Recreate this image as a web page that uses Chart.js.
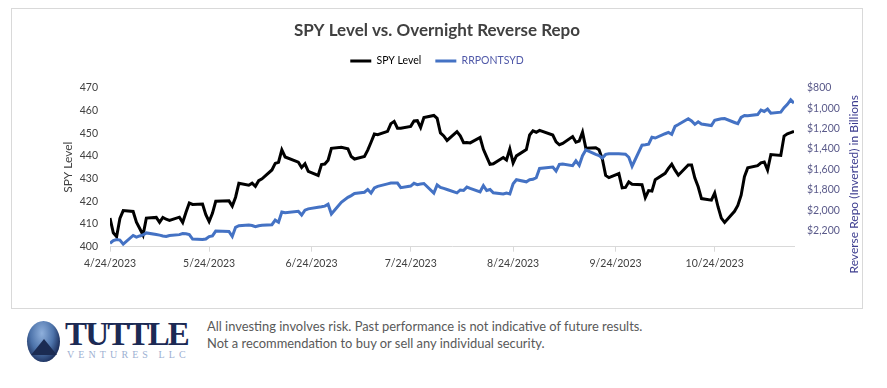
<!DOCTYPE html>
<html>
<head>
<meta charset="utf-8">
<script src="https://cdn.jsdelivr.net/npm/chart.js@4.4.0/dist/chart.umd.min.js"></script>
<style>
  body { margin: 0; background: #fff; width: 887px; height: 388px; position: relative; overflow: hidden; font-family: Lato, sans-serif; }
  #chartBox { position: absolute; left: 11px; top: 8px; width: 850px; height: 299px; border: 1px solid #d9d9d9; }
  #logoMark { position: absolute; left: 27px; top: 321px; width: 33px; height: 41px; border-radius: 50%;
    background: radial-gradient(ellipse at 45% 30%, #8fb0dc 0%, #4d73aa 45%, #1c2f5c 75%); }
  #logoMark::after { content: ""; position: absolute; left: 4px; top: 18px; width: 0; height: 0;
    border-left: 13px solid transparent; border-right: 13px solid transparent; border-bottom: 16px solid #1b2b52; }
  #logoName { position: absolute; left: 65px; top: 316px; font-family: "Liberation Serif", serif; font-weight: bold;
    font-size: 33px; letter-spacing: -1.8px; color: #1c2a54; }
  #logoSub { position: absolute; left: 67px; top: 349px; font-family: "Liberation Serif", serif; font-size: 10px;
    letter-spacing: 4.1px; color: #9db0d2; }
  #disclaimer { position: absolute; left: 207px; top: 318px; font-size: 12.9px; line-height: 17px; color: #595959; }
</style>
</head>
<body>
<div id="chartBox"><canvas id="repoChart" width="850" height="299"></canvas></div>
<div id="logoMark"></div>
<div id="logoName">TUTTLE</div>
<div id="logoSub">VENTURES LLC</div>
<div id="disclaimer">All investing involves risk. Past performance is not indicative of future results.<br>Not a recommendation to buy or sell any individual security.</div>
<script>
const tradeDates = [
  "4/24/2023","4/25/2023","4/26/2023","4/27/2023","4/28/2023",
  "5/1/2023","5/2/2023","5/3/2023","5/4/2023","5/5/2023","5/8/2023","5/9/2023","5/10/2023","5/11/2023","5/12/2023",
  "5/15/2023","5/16/2023","5/17/2023","5/18/2023","5/19/2023","5/22/2023","5/23/2023","5/24/2023","5/25/2023","5/26/2023",
  "5/30/2023","5/31/2023",
  "6/1/2023","6/2/2023","6/5/2023","6/6/2023","6/7/2023","6/8/2023","6/9/2023","6/12/2023","6/13/2023","6/14/2023",
  "6/15/2023","6/16/2023","6/20/2023","6/21/2023","6/22/2023","6/23/2023","6/26/2023","6/27/2023","6/28/2023","6/29/2023","6/30/2023",
  "7/3/2023","7/5/2023","7/6/2023","7/7/2023","7/10/2023","7/11/2023","7/12/2023","7/13/2023","7/14/2023",
  "7/17/2023","7/18/2023","7/19/2023","7/20/2023","7/21/2023","7/24/2023","7/25/2023","7/26/2023","7/27/2023","7/28/2023","7/31/2023",
  "8/1/2023","8/2/2023","8/3/2023","8/4/2023","8/7/2023","8/8/2023","8/9/2023","8/10/2023","8/11/2023",
  "8/14/2023","8/15/2023","8/16/2023","8/17/2023","8/18/2023","8/21/2023","8/22/2023","8/23/2023","8/24/2023","8/25/2023",
  "8/28/2023","8/29/2023","8/30/2023","8/31/2023",
  "9/1/2023","9/5/2023","9/6/2023","9/7/2023","9/8/2023","9/11/2023","9/12/2023","9/13/2023","9/14/2023","9/15/2023",
  "9/18/2023","9/19/2023","9/20/2023","9/21/2023","9/22/2023","9/25/2023","9/26/2023","9/27/2023","9/28/2023","9/29/2023",
  "10/2/2023","10/3/2023","10/4/2023","10/5/2023","10/6/2023","10/9/2023","10/10/2023","10/11/2023","10/12/2023","10/13/2023",
  "10/16/2023","10/17/2023","10/18/2023","10/19/2023","10/20/2023","10/23/2023","10/24/2023","10/25/2023","10/26/2023","10/27/2023",
  "10/30/2023","10/31/2023",
  "11/1/2023","11/2/2023","11/3/2023","11/6/2023","11/7/2023","11/8/2023","11/9/2023","11/10/2023",
  "11/13/2023","11/14/2023","11/15/2023","11/16/2023","11/17/2023"
];
const spyLevel = [
  412.6, 406.1, 404.4, 412.4, 415.9,
  415.5, 410.8, 408.0, 405.1, 412.6, 412.9, 410.7, 412.9, 412.1, 411.6,
  413.0, 410.7, 415.2, 419.2, 418.6, 418.8, 414.1, 411.1, 414.7, 420.0,
  420.2, 417.9,
  421.8, 427.9, 427.1, 428.0, 426.6, 429.1, 429.9, 433.8, 436.7, 437.2,
  442.6, 439.5, 437.2, 434.9, 436.5, 433.2, 431.4, 436.2, 436.4, 438.1, 443.3,
  443.8, 443.1, 439.7, 438.6, 439.7, 442.5, 446.0, 449.6, 449.3,
  450.8, 454.2, 455.2, 452.2, 452.2, 453.0, 455.4, 455.5, 452.5, 456.9, 457.8,
  456.5, 450.1, 448.8, 446.8, 450.7, 448.8, 445.8, 445.9, 445.7,
  448.1, 442.9, 439.6, 436.3, 436.5, 439.3, 438.2, 443.0, 436.9, 440.0,
  442.8, 449.2, 451.0, 450.4,
  451.2, 449.2, 446.2, 444.9, 445.5, 448.5, 446.0, 446.5, 450.4, 443.4,
  443.6, 442.7, 438.6, 431.4, 430.4, 432.2, 425.9, 426.1, 428.5, 427.5,
  427.3, 421.6, 424.7, 424.5, 429.5, 432.3, 434.5, 436.3, 433.7, 431.5,
  436.0, 436.0, 430.2, 426.4, 421.2, 420.5, 423.6, 417.6, 412.6, 410.7,
  415.6, 418.2,
  422.7, 430.8, 434.7, 435.7, 436.9, 437.3, 433.8, 440.6,
  440.2, 448.7, 449.7, 450.2, 450.8
];
const rrpBillions = [
  2322, 2295, 2285, 2290, 2330,
  2245, 2262, 2250, 2240, 2220, 2235, 2242, 2250, 2255, 2245,
  2237, 2226, 2228, 2237, 2280, 2285, 2280, 2256, 2249, 2202,
  2206, 2255,
  2165, 2150, 2142, 2148, 2160, 2150, 2145, 2140, 2095, 2115,
  2015, 2022, 2008, 2045, 1998, 1985, 1970, 1965, 1958, 1940, 2035,
  1920, 1872, 1855, 1835, 1822, 1795, 1830, 1780, 1765,
  1740, 1733, 1732, 1732, 1778, 1762, 1735, 1748, 1742, 1737, 1830,
  1750, 1775, 1785, 1795, 1828, 1800, 1805, 1772, 1785,
  1818, 1757, 1805, 1795, 1828, 1840, 1830, 1838, 1740, 1700,
  1720, 1700, 1695, 1680,
  1590, 1575, 1615, 1550, 1545, 1562, 1515, 1558, 1465, 1408,
  1452, 1463, 1488, 1452, 1445, 1446, 1448, 1450, 1480, 1568,
  1362, 1358, 1352, 1285, 1292, 1250, 1237, 1255, 1178, 1160,
  1103, 1125, 1158, 1133, 1155, 1170, 1118, 1110, 1103, 1102,
  1140, 1152,
  1090, 1071, 1075, 1062, 1018, 1032, 1008, 1049,
  1039, 995, 962, 918, 950
];
const tickDates = ["4/24/2023", "5/24/2023", "6/24/2023", "7/24/2023", "8/24/2023", "9/24/2023", "10/24/2023"];
const startDate = "4/24/2023";
const endDate = "11/17/2023";
const rightAxisTitle = "Reverse Repo (Inverted) in Billions";

function toUTC(s) {
  const [m, d, y] = s.split("/").map(Number);
  return Date.UTC(y, m - 1, d);
}
function dayOffset(s) {
  return Math.round((toUTC(s) - toUTC(startDate)) / 86400000);
}
function dayLabel(v) {
  const t = new Date(toUTC(startDate) + v * 86400000);
  return (t.getUTCMonth() + 1) + "/" + t.getUTCDate() + "/" + t.getUTCFullYear();
}

const tickFont = { family: "Lato", size: 10.5 };

// right axis title reads bottom-to-top and sits a bit low, like the original
const rightTitlePlugin = {
  id: "rightTitle",
  afterDraw(chart) {
    const { ctx, chartArea } = chart;
    ctx.save();
    ctx.translate(chartArea.right + 60, (chartArea.top + chartArea.bottom) / 2 + 17);
    ctx.rotate(-Math.PI / 2);
    ctx.font = "12px Lato";
    ctx.fillStyle = "#3d3d8f";
    ctx.textAlign = "center";
    ctx.textBaseline = "middle";
    ctx.fillText(rightAxisTitle, 0, 0);
    ctx.restore();
  }
};

const ctx = document.getElementById("repoChart").getContext("2d");
new Chart(ctx, {
  type: "line",
  data: {
    datasets: [
      {
        label: "SPY Level",
        data: tradeDates.map((d, i) => ({ x: dayOffset(d), y: spyLevel[i] })),
        borderColor: "#000000",
        backgroundColor: "#000000",
        borderWidth: 3,
        pointRadius: 0,
        tension: 0,
        yAxisID: "y",
        order: 1,
      },
      {
        label: "RRPONTSYD",
        data: tradeDates.map((d, i) => ({ x: dayOffset(d), y: rrpBillions[i] })),
        borderColor: "#4472c4",
        backgroundColor: "#4472c4",
        borderWidth: 3,
        pointRadius: 0,
        tension: 0,
        yAxisID: "y1",
        order: 0,
      },
    ],
  },
  options: {
    responsive: false,
    animation: false,
    devicePixelRatio: 1,
    layout: { padding: { top: 7, left: 0, right: 0, bottom: 0 } },
    plugins: {
      tooltip: { enabled: false },
      title: {
        display: true,
        text: "SPY Level vs. Overnight Reverse Repo",
        color: "#404040",
        font: { family: "Lato", size: 17, weight: "bold", lineHeight: 1 },
        padding: { top: 6.5, bottom: 2.25 },
      },
      subtitle: {
        display: true,
        text: "",
        weight: 900,
        font: { size: 1, lineHeight: 1 },
        padding: { top: 0, bottom: 10.5 },
      },
      legend: {
        position: "top",
        sort: (a, b) => a.datasetIndex - b.datasetIndex,
        labels: {
          boxWidth: 21,
          boxHeight: 3,
          padding: 14,
          font: { family: "Lato", size: 10.5 },
          generateLabels: (chart) =>
            chart.data.datasets.map((ds, i) => ({
              text: ds.label,
              fillStyle: ds.borderColor,
              strokeStyle: ds.borderColor,
              lineWidth: 0,
              fontColor: i === 0 ? "#000000" : "#4f58a8",
              hidden: false,
              datasetIndex: i,
            })),
        },
      },
    },
    scales: {
      x: {
        type: "linear",
        min: 0,
        max: dayOffset(endDate),
        afterBuildTicks: (s) => { s.ticks = tickDates.map((d) => ({ value: dayOffset(d) })); },
        afterFit: (s) => { s.height = 61.3; },
        ticks: { callback: (v) => dayLabel(v), font: tickFont, color: "#404040", maxRotation: 0, autoSkip: false, padding: 6 },
        grid: { display: true, drawOnChartArea: false, drawTicks: true, tickLength: 5, color: "#d9d9d9" },
        border: { display: true, color: "#d9d9d9" },
      },
      y: {
        position: "left",
        min: 400,
        max: 470,
        afterFit: (s) => { s.width = 98; },
        ticks: { stepSize: 10, padding: 12, font: tickFont, color: "#404040" },
        grid: { display: false, drawTicks: false },
        border: { display: false },
        title: { display: true, text: "SPY Level", color: "#404040", font: { family: "Lato", size: 12 }, padding: { top: 49, bottom: 0 } },
      },
      y1: {
        position: "right",
        reverse: true,
        min: 800,
        max: 2355,
        afterFit: (s) => { s.width = 68; },
        afterBuildTicks: (s) => { s.ticks = s.ticks.filter((t) => t.value % 200 === 0); },
        ticks: { stepSize: 200, padding: 13, font: tickFont, color: "#5a5a8a", callback: (v) => "$" + v.toLocaleString("en-US") },
        grid: { display: false, drawTicks: false },
        border: { display: false },
      },
    },
  },
  plugins: [rightTitlePlugin],
});
</script>
</body>
</html>
